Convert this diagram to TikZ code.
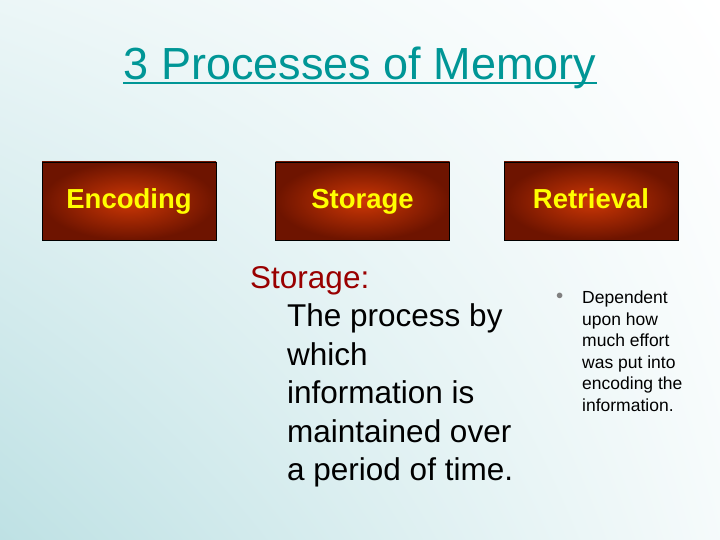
\documentclass[tikz,border=0pt]{standalone}
\usepackage{fontspec}
\setmainfont{Liberation Sans}
\usetikzlibrary{shadings}
\definecolor{teal1}{RGB}{0,150,150}
\definecolor{bgc}{RGB}{190,225,228}
\definecolor{boxin}{RGB}{205,55,5}
\definecolor{boxout}{RGB}{110,20,0}
\definecolor{dred}{RGB}{153,0,0}
\definecolor{yel}{RGB}{255,255,0}
\tikzset{
 pbox/.style={draw=black,line width=0.8pt,minimum width=174pt,minimum height=78pt,text height=19pt,text depth=5pt,inner color=boxin,outer color=boxout,text=yel,font=\bfseries\fontsize{27.5}{30}\selectfont},
}
\begin{document}
\begin{tikzpicture}[x=1pt,y=-1pt]
\useasboundingbox (0,0) rectangle (720,540);
\shade[lower left=bgc,upper right=white,lower right=white!85!bgc,upper left=white!70!bgc] (0,0) rectangle (720,540);
\node[text=teal1,font=\fontsize{45}{50}\selectfont,inner sep=0pt] (title) at (360,68) {3 Processes of Memory};
\draw[teal1,line width=2pt] ([yshift=-3pt]title.base west) -- ([yshift=-3pt]title.base east);
\node[pbox] (enc) at (129,201) {Encoding};
\node[pbox] (sto) at (362.5,201) {Storage};
\node[pbox] (ret) at (591,201) {Retrieval};
\node[anchor=north west,inner sep=0pt,align=left,font=\fontsize{31.5}{38.5}\selectfont] (desc) at (250,266)
 {\color{dred}Storage:\\
 \hspace*{37pt}The process by\\
 \hspace*{37pt}which\\
 \hspace*{37pt}information is\\
 \hspace*{37pt}maintained over\\
 \hspace*{37pt}a period of time.};
\node[anchor=north west,inner sep=0pt,text=gray] (bul) at (556,293) {\fontsize{14}{20}\selectfont$\bullet$};
\node[anchor=north west,inner sep=0pt,align=left,font=\fontsize{17.5}{21.5}\selectfont] (btext) at (582,291)
 {Dependent\\upon how\\much effort\\was put into\\encoding the\\information.};
\end{tikzpicture}
\end{document}
